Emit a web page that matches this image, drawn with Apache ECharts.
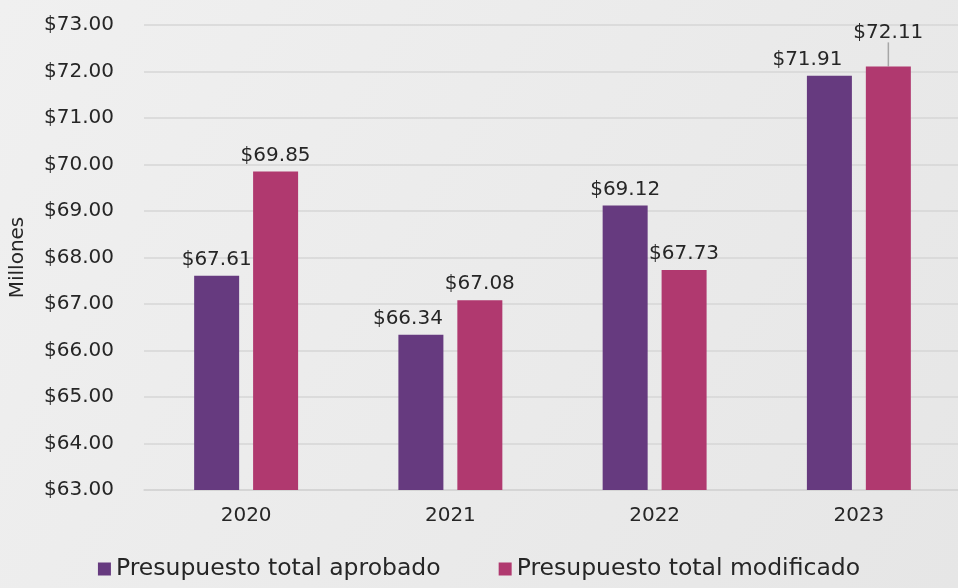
<!DOCTYPE html>
<html>
<head lang="es">
    <meta charset="UTF-8">
    <title></title>
    <style>
        html, body { margin: 0; padding: 0; background: #ececec; }
    </style>
</head>
<body>
<div id="chart" style="width: 958px;height: 588px;"></div>
<script src="https://cdn.jsdelivr.net/npm/echarts@6/dist/echarts.min.js"></script>
<script>
    var years = ['2020', '2021', '2022', '2023'];
    var aprobado = [67.61, 66.34, 69.12, 71.91];
    var modificado = [69.85, 67.08, 67.73, 72.11];
    var seriesNames = ['Presupuesto total aprobado', 'Presupuesto total modificado'];

    var font = 'DejaVu Sans';
    var txt = '#262626';

    function money(v) {
        return '$' + v.toFixed(2);
    }

    // solo el ultimo valor modificado lleva linea guia
    var modData = modificado.map(function (v, i) {
        if (i === modificado.length - 1) {
            return {value: v, labelLine: {show: true, lineStyle: {color: '#a6a6a6', width: 1.5}}};
        }
        return v;
    });

    var chart = echarts.init(document.getElementById('chart'));
    var option = {
        backgroundColor: {
            type: 'linear', x: 0, y: 0, x2: 1, y2: 1,
            colorStops: [{offset: 0, color: '#f0f0f0'}, {offset: 1, color: '#e6e6e6'}]
        },
        textStyle: {fontFamily: font, color: txt},
        color: ['#663a7f', '#b0396f'],
        grid: {left: 144, right: -3, top: 25, bottom: 98, outerBoundsMode: 'none'},
        legend: {
            bottom: 2,
            left: 'center',
            itemWidth: 13,
            itemHeight: 13,
            itemGap: 58,
            icon: 'rect',
            textStyle: {fontSize: 23.5, color: txt, fontFamily: font}
        },
        xAxis: {
            type: 'category',
            data: years,
            axisTick: {show: false},
            axisLine: {lineStyle: {color: '#d4d4d4', width: 1.5}},
            axisLabel: {fontSize: 20, color: txt, margin: 16}
        },
        yAxis: {
            type: 'value',
            min: 63,
            max: 73,
            interval: 1,
            name: 'Millones',
            nameLocation: 'middle',
            nameGap: 116,
            nameTextStyle: {fontSize: 20, color: txt},
            axisLabel: {fontSize: 20, color: txt, margin: 30, formatter: function (v) { return money(v); }},
            splitLine: {lineStyle: {color: '#d6d6d6', width: 1.5}}
        },
        series: [
            {
                name: seriesNames[0],
                type: 'bar',
                data: aprobado,
                barWidth: 45,
                barGap: '31%',
                label: {
                    show: true, position: 'top', distance: 6,
                    fontSize: 20, color: txt,
                    formatter: function (p) { return money(p.value); }
                },
                labelLayout: function (p) {
                    if (p.dataIndex === 1) return {dx: -13};
                    if (p.dataIndex === 3) return {dx: -22};
                    return {};
                }
            },
            {
                name: seriesNames[1],
                type: 'bar',
                data: modData,
                barWidth: 45,
                label: {
                    show: true, position: 'top', distance: 6,
                    fontSize: 20, color: txt,
                    formatter: function (p) { return money(p.value); }
                },
                labelLayout: function (p) {
                    return p.dataIndex === 3 ? {dy: -18} : {};
                },
                labelLine: {show: false}
            }
        ]
    };
    chart.setOption(option);
</script>
</body>
</html>
